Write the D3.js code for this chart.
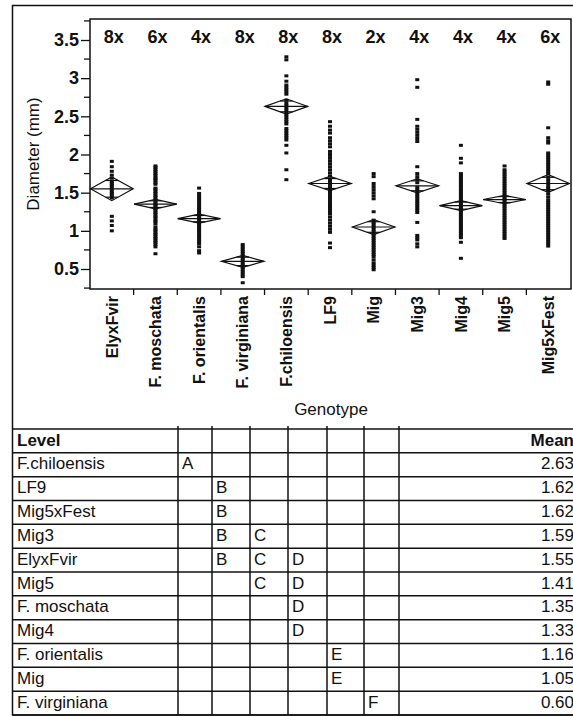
<!DOCTYPE html>
<html>
<head>
<meta charset="utf-8">
<script src="https://cdn.jsdelivr.net/npm/d3@7"></script>
<style>
body{margin:0;background:#fff;}
text{font-family:Arial,"Liberation Sans",sans-serif;fill:#111;}
</style>
</head>
<body>
<script>
var w=573;
var h=716;

// genotypes on the x axis
var genotypes=["ElyxFvir","F. moschata","F. orientalis","F. virginiana","F.chiloensis","LF9","Mig","Mig3","Mig4","Mig5","Mig5xFest"];
var ploidy=["8x","6x","4x","8x","8x","8x","2x","4x","4x","4x","6x"];
var groupMeans=[1.55,1.35,1.16,0.60,2.63,1.62,1.05,1.59,1.33,1.41,1.62];
// half height of the 95% diamonds (mm)
var ciHalf=[0.155,0.062,0.058,0.078,0.10,0.092,0.098,0.092,0.066,0.055,0.115];

// individual diameters
var ptsElyxFvir=[1.91,1.84,1.78,1.73,1.69,1.65,1.62,1.60,1.57,1.54,1.51,1.49,1.46,1.43,1.19,1.13,1.07,1.00];
var ptsMoschata=[1.85,1.83,1.80,1.78,1.75,1.73,1.70,1.68,1.66,1.63,1.61,1.56,1.54,1.51,1.49,1.46,1.44,1.41,1.39,1.36,1.34,1.32,1.29,1.27,1.24,1.22,1.19,1.17,1.14,1.12,1.09,1.05,1.02,1.00,0.97,0.95,0.92,0.90,0.87,0.85,0.82,0.79,0.70];
var ptsOrientalis=[1.56,1.49,1.46,1.43,1.40,1.37,1.34,1.31,1.28,1.25,1.22,1.19,1.16,1.13,1.10,1.07,1.04,1.01,0.98,0.95,0.92,0.89,0.86,0.83,0.79,0.74,0.71];
var ptsVirginiana=[0.82,0.79,0.76,0.73,0.70,0.67,0.64,0.61,0.58,0.55,0.52,0.49,0.46,0.43,0.40,0.32];
var ptsChiloensis=[3.28,3.24,3.03,2.96,2.91,2.88,2.85,2.82,2.79,2.71,2.67,2.64,2.61,2.58,2.55,2.52,2.49,2.46,2.43,2.40,2.34,2.31,2.28,2.25,2.22,2.19,2.12,2.02,1.80,1.67];
var ptsLF9=[2.43,2.37,2.32,2.28,2.22,2.18,2.14,2.10,2.04,2.00,1.96,1.92,1.88,1.84,1.80,1.76,1.72,1.68,1.65,1.62,1.58,1.55,1.52,1.49,1.46,1.43,1.40,1.37,1.34,1.31,1.28,1.25,1.22,1.18,1.14,1.10,1.06,1.02,0.98,0.84,0.78];
var ptsMig=[1.75,1.71,1.62,1.58,1.54,1.50,1.46,1.42,1.25,1.14,1.11,1.08,1.05,1.02,0.99,0.96,0.93,0.90,0.87,0.84,0.81,0.78,0.75,0.72,0.69,0.66,0.62,0.58,0.55,0.52,0.49];
var ptsMig3=[2.98,2.88,2.46,2.37,2.33,2.29,2.25,2.21,2.17,1.84,1.75,1.71,1.67,1.63,1.57,1.54,1.51,1.48,1.45,1.42,1.39,1.36,1.33,1.30,1.27,1.24,1.11,0.94,0.91,0.88,0.83,0.79];
var ptsMig4=[2.12,1.95,1.89,1.75,1.72,1.69,1.66,1.63,1.60,1.57,1.54,1.51,1.48,1.45,1.42,1.39,1.36,1.33,1.30,1.27,1.24,1.21,1.18,1.15,1.12,1.09,1.06,1.03,1.00,0.97,0.94,0.91,0.85,0.64];
var ptsMig5=[1.85,1.80,1.77,1.74,1.71,1.68,1.65,1.62,1.59,1.56,1.53,1.50,1.47,1.44,1.41,1.38,1.35,1.32,1.29,1.26,1.23,1.20,1.17,1.14,1.11,1.08,1.05,1.02,0.99,0.96,0.93,0.90];
var ptsMig5xFest=[2.95,2.92,2.35,2.22,2.18,2.15,2.02,1.99,1.96,1.93,1.90,1.87,1.84,1.81,1.78,1.75,1.70,1.66,1.62,1.58,1.55,1.52,1.48,1.44,1.40,1.37,1.34,1.31,1.28,1.25,1.22,1.19,1.16,1.13,1.10,1.07,1.04,1.01,0.98,0.95,0.92,0.89,0.86,0.83,0.80];
var allPts=[ptsElyxFvir,ptsMoschata,ptsOrientalis,ptsVirginiana,ptsChiloensis,ptsLF9,ptsMig,ptsMig3,ptsMig4,ptsMig5,ptsMig5xFest];

var yMajor=[0.5,1,1.5,2,2.5,3,3.5];
var yMinor=[0.25,0.75,1.25,1.75,2.25,2.75,3.25,3.75];

// connecting letters report
var tableLevels=["F.chiloensis","LF9","Mig5xFest","Mig3","ElyxFvir","Mig5","F. moschata","Mig4","F. orientalis","Mig","F. virginiana"];
var tableLetters=["A","B","B","BC","BCD","CD","D","D","E","E","F"];
var tableMeans=["2.63","1.62","1.62","1.59","1.55","1.41","1.35","1.33","1.16","1.05","0.60"];
var letterSet=["A","B","C","D","E","F"];

var svg=d3.select("body").append("svg")
	.attr("width",w).attr("height",h);

var x=d3.scaleBand().domain(genotypes).range([90,570]);
var y=d3.scaleLinear().domain([0.238,3.775]).range([289,19]);
var bw=x.bandwidth();
var cx=function(i){ return x(genotypes[i])+bw/2; };

// outer frame
svg.append("rect").attr("x",12.5).attr("y",5.5).attr("width",570).attr("height",709.5)
	.attr("fill","none").attr("stroke","#111").attr("stroke-width",1.5);

// plot frame
svg.append("rect").attr("x",90).attr("y",19).attr("width",481).attr("height",270)
	.attr("fill","none").attr("stroke","#111").attr("stroke-width",1.5);

// y axis ticks
var yAxis=d3.axisLeft(y).tickValues(yMajor).tickSize(9).tickFormat(function(d){ return d; });
var gy=svg.append("g").attr("transform","translate(90,0)").call(yAxis);
gy.select(".domain").remove();
gy.selectAll("line").attr("stroke","#111").attr("stroke-width",1.3);
gy.selectAll("text").attr("x",-11).attr("font-size",18).attr("font-weight","bold")
	.attr("font-family","Arial,'Liberation Sans',sans-serif").attr("fill","#111");
svg.selectAll(".minor").data(yMinor).enter().append("line")
	.attr("x1",84).attr("x2",90)
	.attr("y1",function(d){ return y(d); }).attr("y2",function(d){ return y(d); })
	.attr("stroke","#111").attr("stroke-width",1.3);

svg.append("text").attr("transform","translate(33,154) rotate(-90)")
	.attr("text-anchor","middle").attr("dy","0.35em").attr("font-size",17)
	.text("Diameter (mm)");

// x ticks at category boundaries
svg.selectAll(".xtick").data(genotypes.slice(1)).enter().append("line")
	.attr("x1",function(d){ return x(d); }).attr("x2",function(d){ return x(d); })
	.attr("y1",289).attr("y2",295)
	.attr("stroke","#111").attr("stroke-width",1.3);

svg.selectAll(".xlab").data(genotypes).enter().append("text")
	.attr("transform",function(d,i){ return "translate("+cx(i)+",296) rotate(-90)"; })
	.attr("text-anchor","end").attr("dy","0.36em")
	.attr("font-size",16).attr("font-weight","bold")
	.text(function(d){ return d; });

svg.append("text").attr("x",331).attr("y",415).attr("text-anchor","middle")
	.attr("font-size",17).text("Genotype");

// ploidy labels
svg.selectAll(".ploidy").data(ploidy).enter().append("text")
	.attr("x",function(d,i){ return cx(i)+2; }).attr("y",43)
	.attr("text-anchor","middle").attr("font-size",18).attr("font-weight","bold")
	.text(function(d){ return d; });

// points
allPts.forEach(function(pts,i){
	svg.append("g").selectAll("rect").data(pts).enter().append("rect")
		.attr("x",cx(i)-2).attr("y",function(d){ return y(d)-1.5; })
		.attr("width",4).attr("height",3).attr("fill","#111");
});

// means diamonds
var k=Math.SQRT2/2;
groupMeans.forEach(function(m,i){
	var c=cx(i),hw=bw/2-0.5;
	var g=svg.append("g").attr("fill","none").attr("stroke","#111").attr("stroke-width",1.2);
	g.append("path").attr("d","M"+(c-hw)+","+y(m)+"L"+c+","+y(m+ciHalf[i])+"L"+(c+hw)+","+y(m)+"L"+c+","+y(m-ciHalf[i])+"Z");
	g.append("line").attr("x1",c-hw).attr("x2",c+hw).attr("y1",y(m)).attr("y2",y(m));
	[1,-1].forEach(function(s){
		var yy=y(m+s*ciHalf[i]*k),ow=hw*(1-k);
		g.append("line").attr("x1",c-ow).attr("x2",c+ow).attr("y1",yy).attr("y2",yy);
	});
});

// table
var tTop=429,rowH=(715-429)/12;
var colX=[13,178,212,250,288,327,364,399,575];
var tg=svg.append("g");
for(var r=0;r<=12;r++){
	tg.append("line").attr("x1",12.5).attr("x2",575)
		.attr("y1",tTop+r*rowH).attr("y2",tTop+r*rowH)
		.attr("stroke","#111").attr("stroke-width",1.5);
}
colX.slice(1,8).forEach(function(cxx){
	tg.append("line").attr("x1",cxx).attr("x2",cxx).attr("y1",tTop-3).attr("y2",715)
		.attr("stroke","#111").attr("stroke-width",1.5);
});
tg.append("text").attr("x",17).attr("y",tTop+16.5).attr("font-size",17).attr("font-weight","bold").text("Level");
tg.append("text").attr("x",574).attr("y",tTop+16.5).attr("text-anchor","end").attr("font-size",17).attr("font-weight","bold").text("Mean");
tableLevels.forEach(function(lv,i){
	var by=tTop+(i+1)*rowH+16.5;
	tg.append("text").attr("x",17).attr("y",by).attr("font-size",17).text(lv);
	tg.append("text").attr("x",574).attr("y",by).attr("text-anchor","end").attr("font-size",17).text(tableMeans[i]);
	letterSet.forEach(function(L,j){
		if(tableLetters[i].indexOf(L)>=0){
			tg.append("text").attr("x",colX[j+1]+4).attr("y",by).attr("font-size",17).text(L);
		}
	});
});
</script>
</body>
</html>
